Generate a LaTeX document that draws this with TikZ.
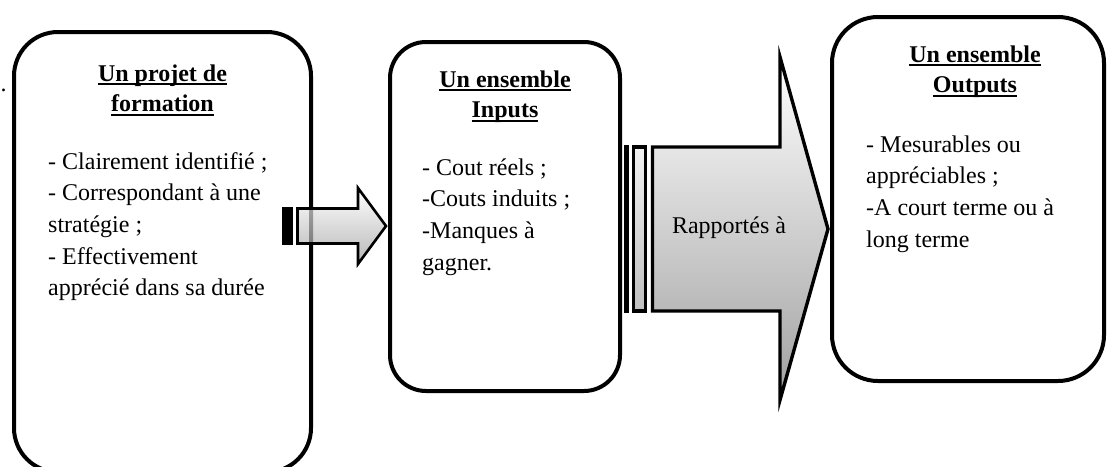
\documentclass[tikz,border=0pt]{standalone}
\usepackage{fontspec}
\setmainfont{Liberation Serif}
\newcommand\ulhead[1]{\leavevmode\setbox0\hbox{#1}\rlap{\rule[-4.2pt]{\wd0}{1.9pt}}\box0}
\tikzset{
  roundbox/.style={draw, line width=4pt, inner sep=0pt, fill=white},
  txt/.style={inner sep=0pt, anchor=base west, font=\fontsize{24}{31.7}\selectfont},
  head/.style={inner sep=0pt, anchor=base, font=\fontsize{24}{30.5}\selectfont\bfseries},
  arrowline/.style={draw=black, line width=3.4pt, line join=miter, miter limit=10},
  bigshade/.style={top color=white, bottom color=black!37},
  stripeshade/.style={top color=black!5, bottom color=black!25},
}
\begin{document}
\begin{tikzpicture}[x=1pt,y=-1pt]
\useasboundingbox (0,0) rectangle (1108,466);

% boxes
\node[roundbox, rounded corners=44pt, minimum width=297pt, minimum height=440pt] (b1) at (162.5,252) {};
\node[roundbox, rounded corners=36pt, minimum width=230pt, minimum height=349pt] (b2) at (505,216.5) {};
\node[roundbox, rounded corners=46pt, minimum width=272pt, minimum height=364pt] (b3) at (968,199) {};

% small striped arrow
\shade[top color=white, bottom color=black!40, fill opacity=0.7, draw=black, line width=2.6pt, line join=miter, draw opacity=1]
  (297.5,208.5) -- (358,208.5) -- (358,188) -- (386,226) -- (358,264) -- (358,243.5) -- (297.5,243.5) -- cycle;
\fill[black] (282,207.2) rectangle (293,244.8);

% big striped arrow
\shade[bigshade] (652.5,147) -- (780,147) -- (780,57) -- (828,229) -- (780,400) -- (780,311) -- (652.5,311) -- cycle;
\draw[arrowline] (652.5,147) -- (780,147) -- (780,57) -- (828,229) -- (780,400) -- (780,311) -- (652.5,311) -- cycle;
\shade[stripeshade, arrowline] (633.5,147) rectangle (645.5,311);
\shade[stripeshade, arrowline] (625.2,147) rectangle (627.4,311);

% texts box 1
\node (dot) at (0.5,91) [txt] {.};
\node (h1) at (162.5,81) [head] {\parbox[t]{280pt}{\centering\ulhead{Un projet de}\\\ulhead{formation}}};
\node (t1) at (48,169) [txt] {\parbox[t]{260pt}{\raggedright - Clairement identifié ;\\- Correspondant à une\\stratégie ;\\- Effectivement\\apprécié dans sa durée}};

% texts box 2
\node (h2) at (505,87) [head] {\parbox[t]{220pt}{\centering\ulhead{Un ensemble}\\\ulhead{Inputs}}};
\node (t2) at (422,175) [txt] {\parbox[t]{190pt}{\raggedright - Cout réels ;\\-Couts induits ;\\-Manques à\\gagner.}};

% arrow label
\node (lab) at (729,233) [inner sep=0pt, anchor=base, font=\fontsize{24}{30}\selectfont] {Rapportés à};

% texts box 3
\node (h3) at (975,62) [head] {\parbox[t]{250pt}{\centering\ulhead{Un ensemble}\\\ulhead{Outputs}}};
\node (t3) at (866,152) [txt] {\parbox[t]{230pt}{\raggedright - Mesurables ou\\appréciables ;\\-A court terme ou à\\long terme}};
\end{tikzpicture}
\end{document}
